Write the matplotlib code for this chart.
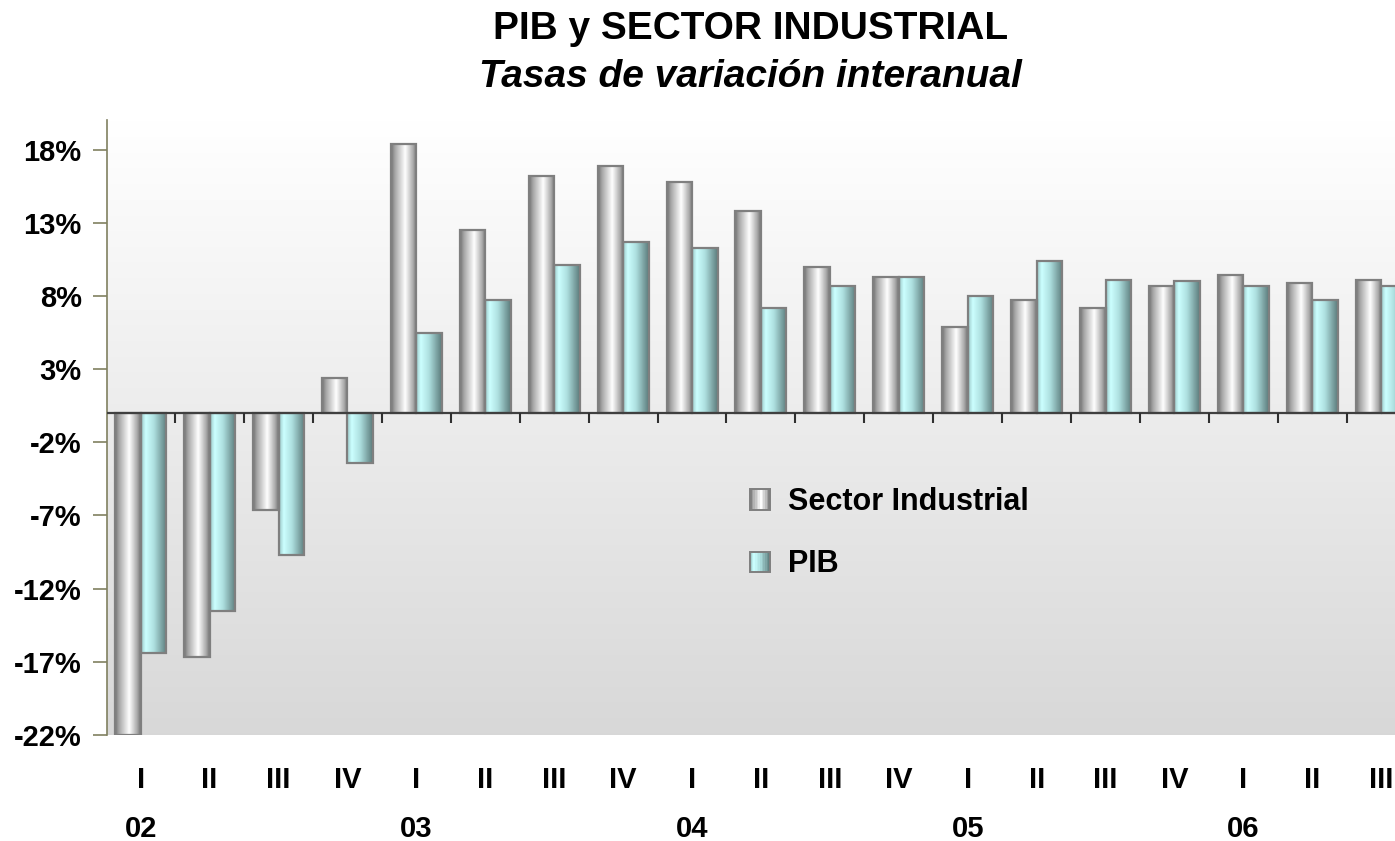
import numpy as np
import matplotlib
matplotlib.use("Agg")
import matplotlib.pyplot as plt
from matplotlib.colors import LinearSegmentedColormap
from matplotlib.patches import Rectangle
from matplotlib.legend_handler import HandlerBase

# datos (tasas de variacion interanual, %)
trimestres = ["I", "II", "III", "IV", "I", "II", "III", "IV", "I", "II",
              "III", "IV", "I", "II", "III", "IV", "I", "II", "III"]
anios = ["02", "03", "04", "05", "06"]
anios_pos = [0, 4, 8, 12, 16]
sector_industrial = [-22.0, -16.7, -6.6, 2.4, 18.4, 12.5, 16.2, 16.9, 15.8, 13.8,
                     10.0, 9.3, 5.9, 7.7, 7.2, 8.7, 9.4, 8.9, 9.1]
pib = [-16.4, -13.5, -9.7, -3.4, 5.5, 7.7, 10.1, 11.7, 11.3, 7.2,
       8.7, 9.3, 8.0, 10.4, 9.1, 9.0, 8.7, 7.7, 8.7]
yticks = [-22, -17, -12, -7, -2, 3, 8, 13, 18]

plt.rcParams['font.family'] = ['Liberation Sans', 'DejaVu Sans']
plt.rcParams['font.weight'] = 'bold'

cmap_sector = LinearSegmentedColormap.from_list(
    "sector", [(0, "#747474"), (0.15, "#a6a6a6"), (0.55, "#ffffff"), (0.85, "#adadad"), (1, "#747474")])
cmap_pib = LinearSegmentedColormap.from_list(
    "pib", [(0, "#9cc8c8"), (0.18, "#ccffff"), (0.5, "#aee0e0"), (1, "#5c7c7c")])

fig = plt.figure(figsize=(13.95, 8.41), dpi=100)
ax = fig.add_axes([0.0765, 0.126, 0.9235, 0.731])

xmin, xmax = -0.493, 18.2
ymin, ymax = -22, 20

# fondo degradado
fondo = np.linspace(1.0, 0.847, 256).reshape(-1, 1)
ax.imshow(np.dstack([fondo] * 3), extent=(xmin, xmax, ymin, ymax), aspect='auto', zorder=0)

x = np.arange(len(trimestres))
w = 0.37
grad = np.linspace(0, 1, 64).reshape(1, -1)

def barras_degradado(xs, vals, cmap, align):
    bars = ax.bar(xs, vals, width=w, align=align, facecolor='none',
                  edgecolor='#7f7f7f', linewidth=1.6, zorder=3)
    for b in bars:
        x0, y0, bw, bh = b.get_x(), b.get_y(), b.get_width(), b.get_height()
        ax.imshow(grad, cmap=cmap, extent=(x0, x0 + bw, y0, y0 + bh),
                  aspect='auto', zorder=2, interpolation='bilinear')
    return bars

barras_degradado(x - w, sector_industrial, cmap_sector, 'edge')
barras_degradado(x, pib, cmap_pib, 'edge')

ax.axhline(0, color='#404040', linewidth=1.6, zorder=4)
ax.vlines(x[:-1] + 0.5, -0.7, 0, color='#303030', linewidth=1.5, zorder=4)

ax.set_xlim(xmin, xmax)
ax.set_ylim(ymin, ymax)

for s in ['top', 'right', 'bottom']:
    ax.spines[s].set_visible(False)
ax.spines['left'].set_color('#808060')
ax.spines['left'].set_linewidth(1.2)

ax.set_yticks(yticks)
ax.set_yticklabels([f"{v}%" for v in yticks], fontsize=21, fontweight='bold')
ax.tick_params(axis='y', colors='#808060', length=10, width=1.2, labelcolor='black', pad=8)

ax.set_xticks(x)
ax.set_xticklabels(trimestres, fontsize=21, fontweight='bold')
ax.tick_params(axis='x', length=0, pad=22)

for p, a in zip(anios_pos, anios):
    ax.text(p, -0.153, a, transform=ax.get_xaxis_transform(), ha='center', va='center',
            fontsize=21, fontweight='bold')

# leyenda con cuadros degradados
class HandlerDegradado(HandlerBase):
    def __init__(self, cmap):
        super().__init__()
        self.cmap = cmap

    def create_artists(self, legend, orig_handle, xdescent, ydescent, width, height, fontsize, trans):
        arts = []
        n = 12
        for i in range(n):
            arts.append(Rectangle((-xdescent + width * i / n, -ydescent), width / n + 0.3, height,
                                  facecolor=self.cmap((i + 0.5) / n), edgecolor='none', transform=trans))
        arts.append(Rectangle((-xdescent, -ydescent), width, height, facecolor='none',
                              edgecolor='#7f7f7f', linewidth=1.4, transform=trans))
        return arts

h_sector = Rectangle((0, 0), 1, 1)
h_pib = Rectangle((0, 0), 1, 1)
ax.legend([h_sector, h_pib], ["Sector Industrial", "PIB"],
          handler_map={h_sector: HandlerDegradado(cmap_sector), h_pib: HandlerDegradado(cmap_pib)},
          loc='center left', bbox_to_anchor=(0.478, 0.328), frameon=False,
          prop={'size': 22, 'weight': 'bold'}, handlelength=0.65, handleheight=0.65,
          handletextpad=0.6, labelspacing=1.05)

cx = 0.0765 + 0.9235 / 2
fig.text(cx, 0.966, "PIB y SECTOR INDUSTRIAL", ha='center', va='center', fontsize=28, fontweight='bold')
fig.text(cx, 0.909, "Tasas de variación interanual", ha='center', va='center', fontsize=28,
         fontweight='bold', style='italic')

fig.savefig("out.png", dpi=100, facecolor='white')
